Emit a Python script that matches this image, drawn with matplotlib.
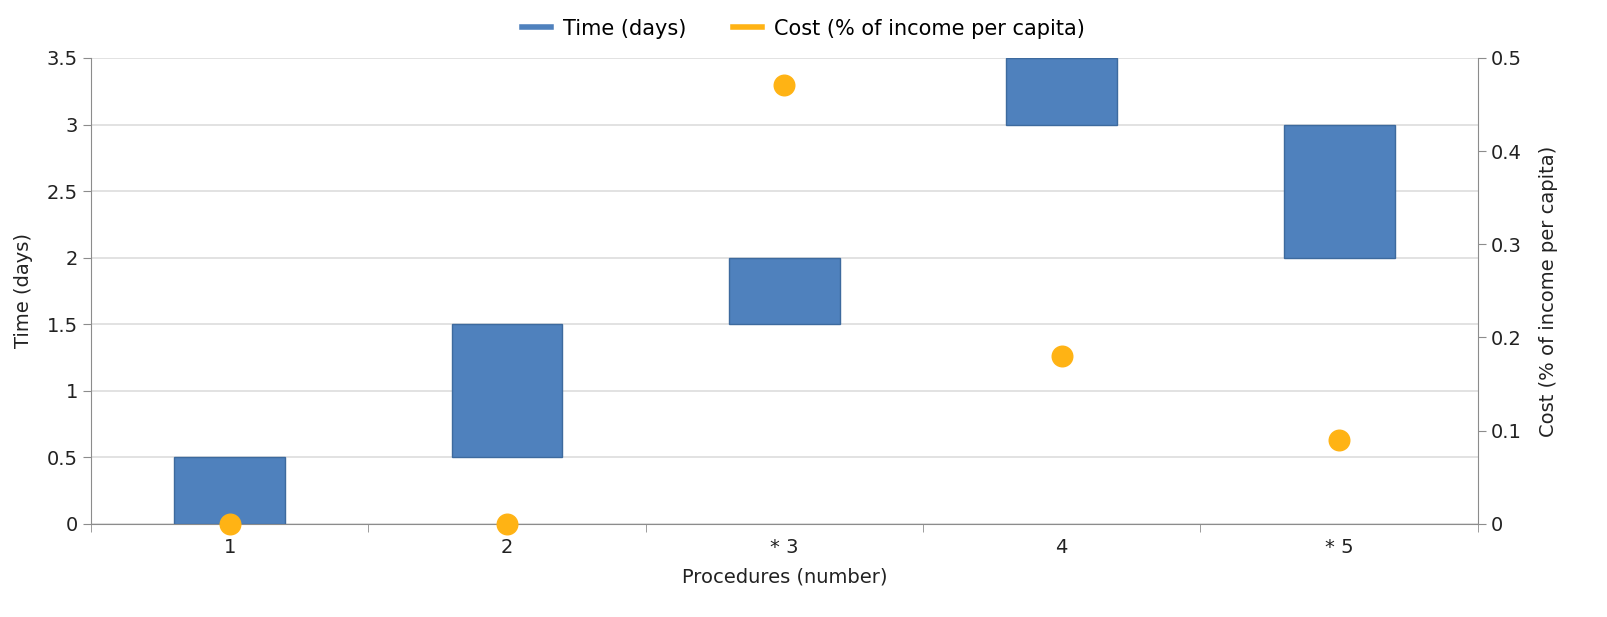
import numpy as np
import matplotlib.pyplot as plt

procedures = ["1", "2", "* 3", "4", "* 5"]
time_start = [0, 0.5, 1.5, 3, 2]
time_end = [0.5, 1.5, 2, 3.5, 3]
cost = [0, 0, 0.471, 0.18, 0.09]

blue = "#4f81bd"
orange = "#ffb314"
axis_grey = "#8c8c8c"

fig = plt.figure(figsize=(16.07, 6.17), dpi=100)
ax = fig.add_axes([0.0566, 0.151, 0.863, 0.755])
ax2 = ax.twinx()

x = np.arange(len(procedures))
heights = np.array(time_end) - np.array(time_start)
ax.bar(x, heights, bottom=time_start, width=0.4, color=blue,
       edgecolor="#3d6a9e", linewidth=1, zorder=3, label="Time (days)")
ax2.scatter(x, cost, s=220, color=orange, zorder=4, clip_on=False,
            label="Cost (% of income per capita)")

ax.set_xlim(-0.5, 4.5)
ax.set_ylim(0, 3.5)
ax2.set_ylim(0, 0.5)
ax.set_yticks(np.arange(0, 3.51, 0.5))
ax.set_yticklabels(["0", "0.5", "1", "1.5", "2", "2.5", "3", "3.5"])
ax2.set_yticks(np.arange(0, 0.51, 0.1))
ax2.set_yticklabels(["0", "0.1", "0.2", "0.3", "0.4", "0.5"])

ax.set_xticks(x)
ax.set_xticklabels(procedures)
ax.set_xticks(np.arange(-0.5, 4.6, 1), minor=True)
ax.tick_params(axis="x", which="major", length=0, pad=10, labelsize=14, colors="#222222")
ax.tick_params(axis="x", which="minor", length=6, color=axis_grey)
ax.tick_params(axis="y", length=6, color=axis_grey, labelsize=14, labelcolor="#222222")
ax2.tick_params(axis="y", length=6, color=axis_grey, labelsize=14, labelcolor="#222222")

ax.grid(axis="y", color="#dddddd", linewidth=1.2, zorder=0)
ax.set_axisbelow(True)
for a in (ax, ax2):
    a.spines["top"].set_visible(False)
    for s in ("left", "right", "bottom"):
        a.spines[s].set_color(axis_grey)
ax2.spines["left"].set_visible(False)
ax.spines["right"].set_visible(False)
ax2.spines["bottom"].set_visible(False)

ax.set_xlabel("Procedures (number)", fontsize=14, color="#222222", labelpad=8)
ax.set_ylabel("Time (days)", fontsize=14, color="#222222", labelpad=10)
ax2.set_ylabel("Cost (% of income per capita)", fontsize=14, color="#222222", labelpad=12)

handles = [plt.Line2D([], [], color=blue, linewidth=4),
           plt.Line2D([], [], color=orange, linewidth=4)]
fig.legend(handles, ["Time (days)", "Cost (% of income per capita)"],
           loc="upper center", bbox_to_anchor=(0.5, 1.0), ncol=2, frameon=False,
           fontsize=15, handlelength=1.4, columnspacing=2.2, handletextpad=0.6)

fig.savefig("out.png", dpi=100)
